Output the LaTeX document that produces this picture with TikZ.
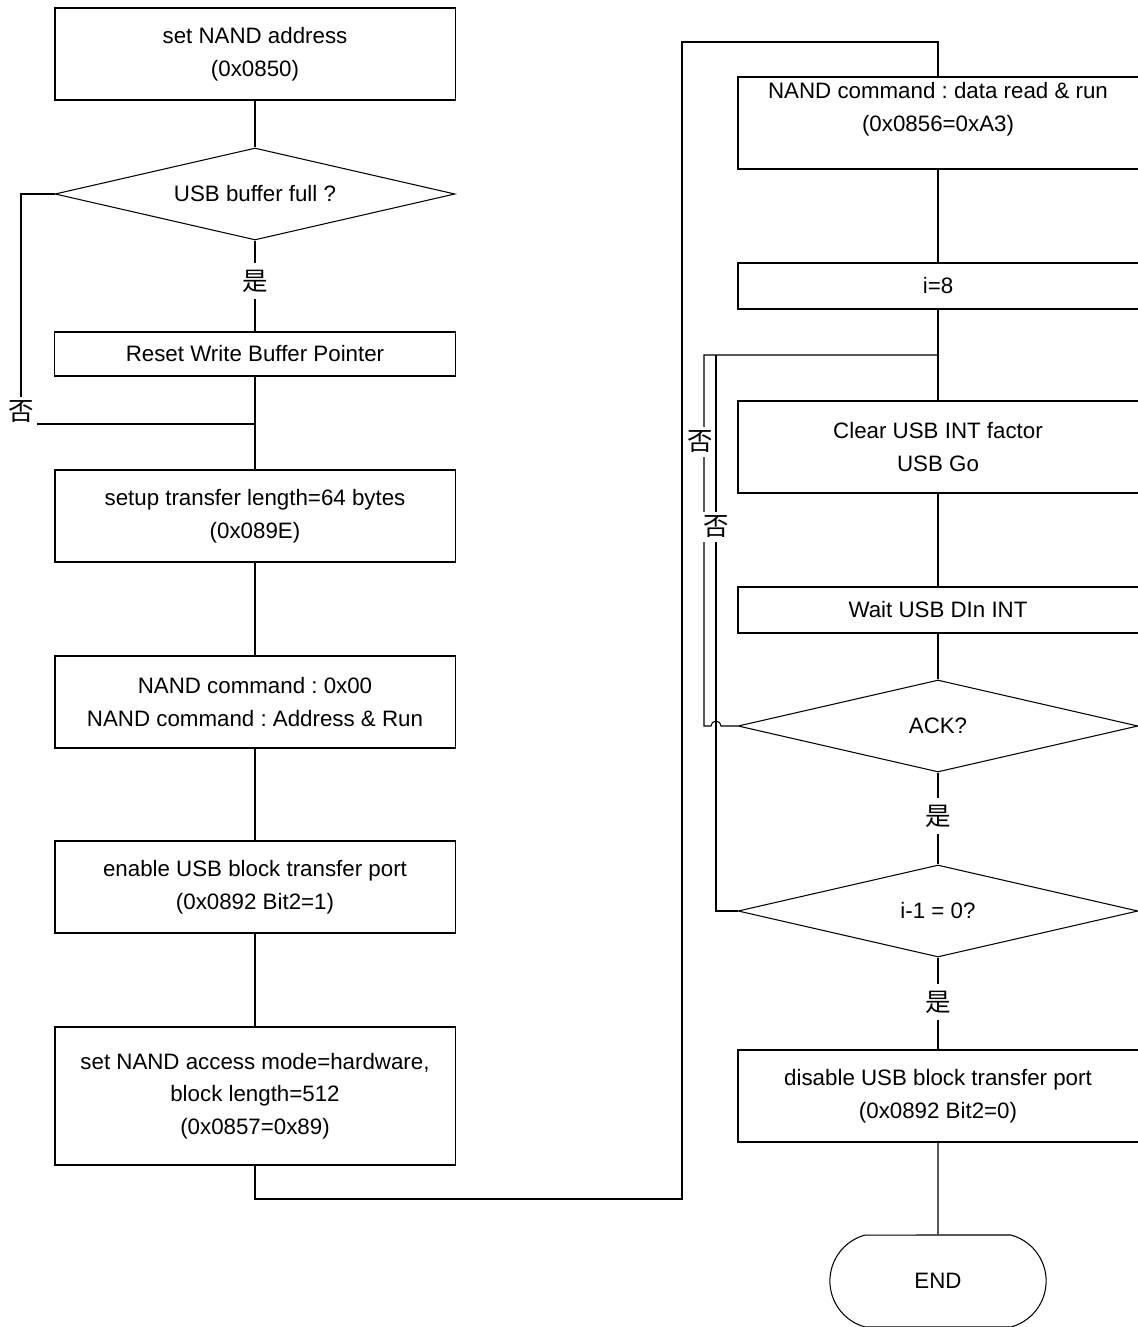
\documentclass[tikz,border=0pt]{standalone}
\usepackage{fontspec}
\setmainfont{Liberation Sans}
\newfontfamily\cjk{Noto Sans CJK SC}
\usetikzlibrary{shapes.geometric,shapes.misc}
\frenchspacing

\begin{document}
\begin{tikzpicture}[
  x=0.02cm, y=-0.02cm,
  line width=0.6pt,
  font=\fontsize{12.7}{18.5}\selectfont,
  proc/.style={draw, rectangle, line width=1.1pt, align=center,
    minimum width=8.02cm, minimum height=1.84cm, inner sep=0pt},
  thinproc/.style={proc, line width=0.6pt, minimum height=0.88cm},
  flatproc/.style={proc, minimum height=0.92cm},
  decide/.style={draw, diamond, aspect=4.3, inner sep=0pt,
    minimum width=8cm, minimum height=1.84cm},
  tag/.style={fill=white, inner xsep=0pt, inner ysep=2pt,
    font=\cjk\fontsize{14.5}{16}\selectfont},
  term/.style={draw, rounded rectangle, rounded rectangle arc length=150,
    minimum width=4.56cm, minimum height=1.84cm}]
\useasboundingbox (0,0) rectangle (1137,1327);

\node[proc] (addr) at (255,54) {set NAND address\\(0x0850)};
\node[decide] (full) at (255,194) {USB buffer full ?};
\node[thinproc] (reset) at (255,354) {Reset Write Buffer Pointer};
\coordinate (join) at (255,424);
\node[proc] (setup) at (255,516) {setup transfer length=64 bytes\\(0x089E)};
\node[proc] (cmd) at (255,702) {NAND command : 0x00\\NAND command : Address \& Run};
\node[proc] (enable) at (255,887) {enable USB block transfer port\\(0x0892 Bit2=1)};
\node[proc, minimum height=2.76cm] (access) at (255,1096)
  {set NAND access mode=hardware,\\block length=512\\(0x0857=0x89)};

\node[proc] (readcmd) at (938,123) {NAND command : data read \& run\\(0x0856=0xA3)\\\mbox{}};
\node[flatproc] (i8) at (938,286) {i=8};
\coordinate (looptop) at (938,355);
\coordinate (outer) at (704,355);
\coordinate (inner) at (716,355);
\node[proc] (clear) at (938,447) {Clear USB INT factor\\USB Go};
\node[flatproc] (wait) at (938,610) {Wait USB DIn INT};
\node[decide] (ack) at (938,726) {ACK?};
\node[decide] (dec) at (938,911) {i-1 = 0?};
\node[proc] (disable) at (938,1096) {disable USB block transfer port\\(0x0892 Bit2=0)};
\node[term] (end) at (938,1281) {END};

\draw (addr) -- (full);
\draw (full) -- (reset);
\draw (reset) -- (join) -- (setup);
\draw (full.west) -| (21,424) -- (join);
\draw (setup) -- (cmd);
\draw (cmd) -- (enable);
\draw (enable) -- (access);
\draw (access.south) -- (255,1199) -| (682,42) -| (readcmd.north);

\draw (readcmd) -- (i8);
\draw (i8) -- (clear);
\draw (clear) -- (wait);
\draw (wait) -- (ack);
\draw (ack) -- (dec);
\draw (dec) -- (disable);
\draw (disable) -- (end);
\draw (looptop) -- (outer) -- (outer |- ack.west) -- ++(7,0)
  arc[start angle=180, end angle=0, radius=0.1cm] -- (ack.west);
\draw (inner) -- (inner |- dec.west) -- (dec.west);

\node[tag, inner ysep=4pt] (yes1) at (255,281) {是};
\node[tag, inner xsep=2pt] (no1) at (21,412) {否};
\node[tag] (no2) at (700,442) {否};
\node[tag] (no3) at (716,527) {否};
\node[tag, inner ysep=4pt] (yes2) at (938,816) {是};
\node[tag, inner ysep=4pt] (yes3) at (938,1002) {是};
\end{tikzpicture}
\end{document}
